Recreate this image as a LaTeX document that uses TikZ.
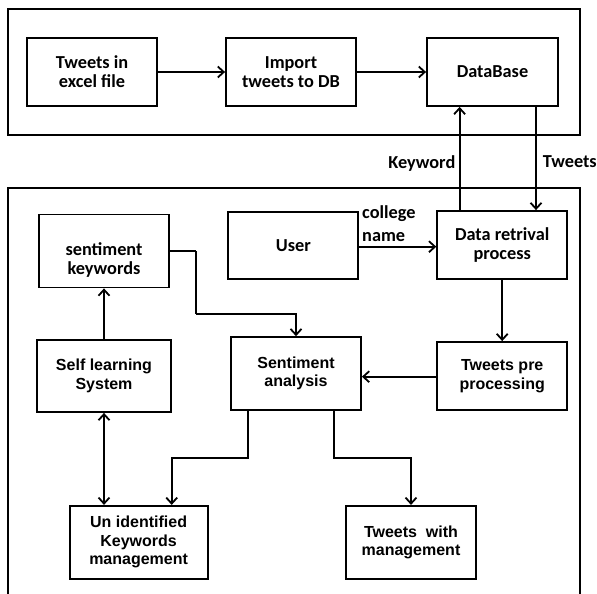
\documentclass[tikz,border=0pt]{standalone}
\usepackage{fontspec}
\setmainfont{Liberation Sans}
\newfontfamily\carl{Carlito}
\usetikzlibrary{arrows.meta}
\begin{document}
\begin{tikzpicture}[x=1pt,y=-1pt,
  ln/.style={line width=1.8pt},
  arr/.style={ln,-{Straight Barb[length=6pt,width=11pt]}},
  darr/.style={ln,{Straight Barb[length=6pt,width=11pt]}-{Straight Barb[length=6pt,width=11pt]}},
  boxa/.style={draw,ln,align=center,inner sep=0pt,font=\fontsize{16}{18.5}\selectfont\bfseries},
  boxc/.style={draw,ln,align=center,inner sep=0pt,font=\carl\fontsize{18.3}{18.8}\selectfont\bfseries},
  lbl/.style={inner sep=0pt,align=left,font=\carl\fontsize{18.3}{22.5}\selectfont\bfseries}]
\useasboundingbox (0,0) rectangle (597,594);
% frames
\draw[ln] (7.6,9.3) rectangle (579.6,135);
\draw[ln] (7.6,596) -- (7.6,188.3) -- (579.6,188.3) -- (579.6,596);
% boxes
\node[boxc,minimum width=130pt,minimum height=68pt] (t1) at (92,72) {Tweets in\\excel file};
\node[boxc,minimum width=130pt,minimum height=68pt] (t2) at (291,72) {Import\\tweets to DB};
\node[boxc,minimum width=131pt,minimum height=68pt] (db) at (492.5,72) {DataBase};
\node[boxc,minimum width=130pt,minimum height=67pt] (user) at (293.3,245.5) {User};
\node[boxc,minimum width=130pt,minimum height=68pt] (drp) at (502.2,245) {Data retrival\\process};
\node[boxc,minimum width=130pt,minimum height=73pt] (sk) at (104,251) {};
\node[inner sep=0pt,align=center,font=\carl\fontsize{18.3}{18.8}\selectfont\bfseries] (skt) at (104,260) {sentiment\\keywords};
\node[boxa,minimum width=134pt,minimum height=72pt] (sls) at (104,376) {Self learning\\System};
\node[boxa,minimum width=130pt,minimum height=73pt] (sa) at (296,373.6) {Sentiment\\analysis};
\node[boxa,minimum width=130pt,minimum height=68pt] (tpp) at (502.2,376) {Tweets pre\\processing};
\node[boxa,minimum width=138pt,minimum height=73pt] (uk) at (138.6,542.3) {Un identified\\Keywords\\management};
\node[boxa,minimum width=130pt,minimum height=73pt] (tw) at (411,542.3) {Tweets\ \ with\\management};
% labels
\node[lbl,anchor=east] (kw) at (455.5,164) {Keyword};
\node[lbl,anchor=west] (tl) at (542.6,162) {Tweets};
\node[lbl,anchor=west] (cn) at (362,223.5) {college\\name};
% helper coordinates
\coordinate (kx) at (459.6,0);
\coordinate (tx) at (536,0);
\coordinate (c1) at (196,314);
\coordinate (sl) at (248,0);
\coordinate (ul) at (171.7,457.7);
\coordinate (sr) at (334.3,0);
\coordinate (tr) at (411,457.7);
% connectors
\draw[arr] (t1.east) -- (t2.west);
\draw[arr] (t2.east) -- (db.west);
\draw[arr] (drp.north -| kx) -- (db.south -| kx);
\draw[arr] (db.south -| tx) -- (drp.north -| tx);
\draw[arr] (user.east |- 0,246.7) -- (drp.west |- 0,246.7);
\draw[arr] (drp.south) -- (tpp.north);
\draw[arr] (tpp.west |- 0,376.7) -- (sa.east |- 0,376.7);
\draw[ln] (sk.east) -- (sk.east -| c1);
\draw[ln] (sk.east -| c1) -- (c1);
\draw[arr] (c1) -| (sa.north);
\draw[arr] (sls.north) -- (sk.south);
\draw[darr] (sls.south) -- (sls.south |- uk.north);
\draw[arr] (sa.south -| sl) |- (ul) -- (uk.north -| ul);
\draw[arr] (sa.south -| sr) |- (tr) -- (tw.north);
\end{tikzpicture}
\end{document}
